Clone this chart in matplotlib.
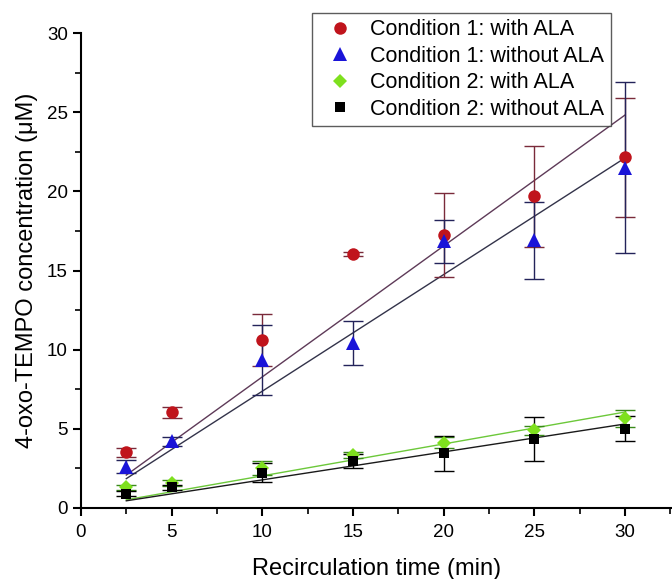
import numpy as np
import matplotlib.pyplot as plt
from matplotlib.ticker import MultipleLocator

plt.rcParams['font.family'] = ['Liberation Sans', 'DejaVu Sans']

# recirculation time (min)
time_min = [2.5, 5, 10, 15, 20, 25, 30]

# 4-oxo-TEMPO concentration (uM)
c1_with = [3.5, 6.05, 10.6, 16.05, 17.25, 19.7, 22.15]
c1_with_err = [0.3, 0.35, 1.65, 0.15, 2.65, 3.2, 3.75]
c1_without = [2.6, 4.2, 9.35, 10.4, 16.85, 16.9, 21.5]
c1_without_err = [0.4, 0.3, 2.2, 1.4, 1.35, 2.45, 5.4]
c2_with = [1.3, 1.55, 2.5, 3.35, 4.1, 4.9, 5.65]
c2_with_err = [0.15, 0.2, 0.45, 0.2, 0.35, 0.3, 0.55]
c2_without = [0.9, 1.3, 2.2, 2.95, 3.45, 4.35, 5.0]
c2_without_err = [0.15, 0.15, 0.6, 0.45, 1.1, 1.4, 0.8]

series = [
    ("Condition 1: with ALA", c1_with, c1_with_err, 'o', '#c0141c', '#7a2a3a', '#5e3a58', 9),
    ("Condition 1: without ALA", c1_without, c1_without_err, '^', '#1a14d8', '#23235a', '#33334a', 10),
    ("Condition 2: with ALA", c2_with, c2_with_err, 'D', '#7ee01e', '#3a8a1a', '#6cc83a', 7),
    ("Condition 2: without ALA", c2_without, c2_without_err, 's', '#000000', '#000000', '#1a1a1a', 7),
]

fig = plt.figure(figsize=(6.72, 5.79), dpi=100)
ax = fig.add_axes([0.1205, 0.123, 0.8795, 0.8195])

x = np.array(time_min)
for label, y, err, mk, col, ecol, fitcol, ms in series:
    y = np.array(y)
    # linear fit forced through origin
    slope = np.sum(x * y) / np.sum(x * x)
    xf = np.array([x.min(), x.max()])
    ax.plot(xf, slope * xf, color=fitcol, lw=1.0, zorder=2)
    ax.errorbar(x, y, yerr=err, fmt='none', ecolor=ecol, elinewidth=1.0,
                capsize=7, capthick=1.0, zorder=3)
    ax.plot(x, y, linestyle='none', marker=mk, color=col, markersize=ms,
            markeredgewidth=0, label=label, zorder=4)

ax.set_xlim(0, 32.6)
ax.set_ylim(0, 30)
ax.xaxis.set_major_locator(MultipleLocator(5))
ax.xaxis.set_minor_locator(MultipleLocator(2.5))
ax.yaxis.set_major_locator(MultipleLocator(5))
ax.yaxis.set_minor_locator(MultipleLocator(2.5))
ax.spines['top'].set_visible(False)
ax.spines['right'].set_visible(False)
for s in ('left', 'bottom'):
    ax.spines[s].set_linewidth(1.5)
ax.tick_params(which='major', direction='out', length=6, width=1.5, labelsize=13.5)
ax.tick_params(axis='x', which='major', pad=6)
ax.tick_params(which='minor', direction='out', length=4, width=1.2)

ax.set_xlabel('Recirculation time (min)', fontsize=17, labelpad=12)
ax.set_ylabel('4-oxo-TEMPO concentration (μM)', fontsize=17, labelpad=6)

leg = ax.legend(loc='upper right', bbox_to_anchor=(0.909, 0.9775),
                bbox_transform=fig.transFigure, fontsize=15.5, frameon=True,
                fancybox=False, edgecolor='#333333', handletextpad=0.4,
                labelspacing=0.25, borderpad=0.3, handlelength=2.0,
                borderaxespad=0)
leg.get_frame().set_linewidth(1.0)

plt.savefig('out.png', dpi=100)
